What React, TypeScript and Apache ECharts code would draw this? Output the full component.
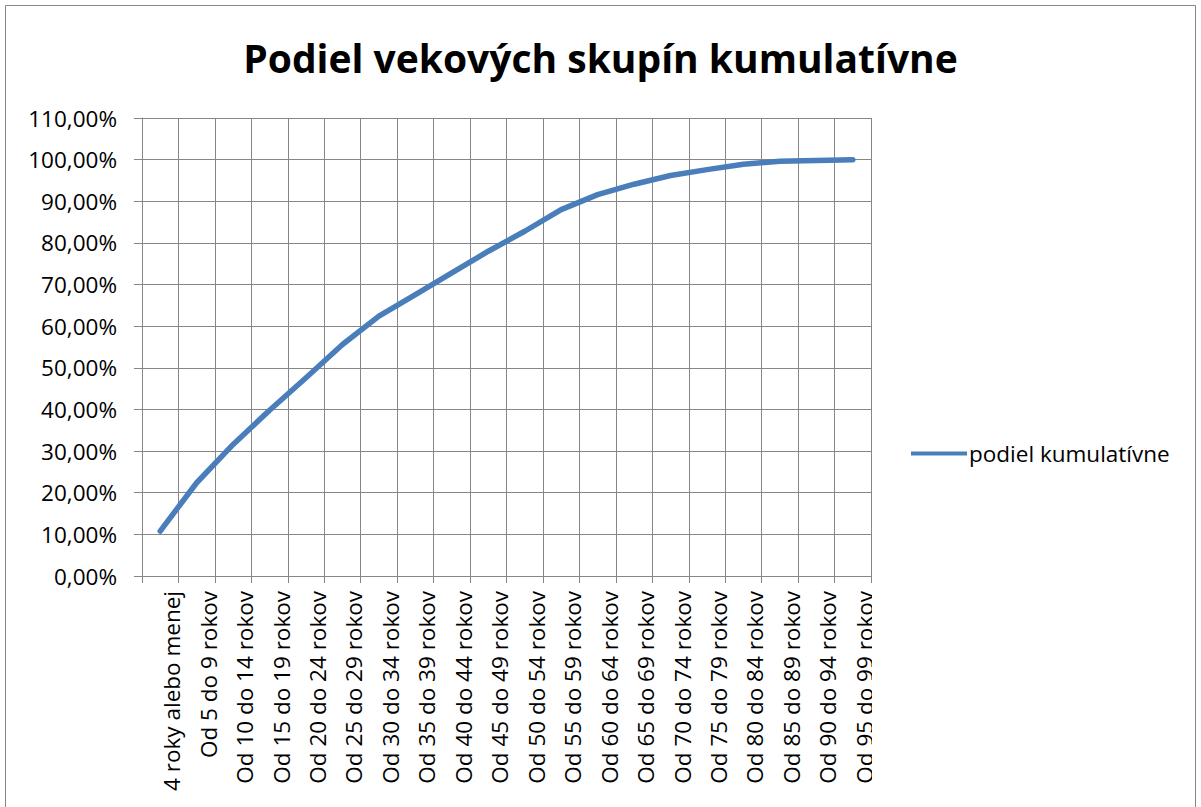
import React, { useEffect, useRef } from "react";
import * as echarts from "echarts";

const titleText = "Podiel vekových skupín kumulatívne";
const seriesName = "podiel kumulatívne";

const categories = [
  "4 roky alebo menej",
  "Od 5 do 9 rokov",
  "Od 10 do 14 rokov",
  "Od 15 do 19 rokov",
  "Od 20 do 24 rokov",
  "Od 25 do 29 rokov",
  "Od 30 do 34 rokov",
  "Od 35 do 39 rokov",
  "Od 40 do 44 rokov",
  "Od 45 do 49 rokov",
  "Od 50 do 54 rokov",
  "Od 55 do 59 rokov",
  "Od 60 do 64 rokov",
  "Od 65 do 69 rokov",
  "Od 70 do 74 rokov",
  "Od 75 do 79 rokov",
  "Od 80 do 84 rokov",
  "Od 85 do 89 rokov",
  "Od 90 do 94 rokov",
  "Od 95 do 99 rokov",
];

// cumulative share in percent
const values = [
  10.8, 22.4, 31.6, 39.8, 47.6, 55.6, 62.4, 67.6, 72.8, 78.0,
  82.8, 88.0, 91.6, 94.1, 96.2, 97.6, 98.9, 99.6, 99.8, 100.0,
];

const yMin = 0;
const yMax = 110;
const yStep = 10;

const FONT = "'Open Sans', 'Noto Sans', sans-serif";
const GRAY = "#868686";

export default function App() {
  const ref = useRef<HTMLDivElement>(null);

  useEffect(() => {
    if (!ref.current) return;
    const chart = echarts.init(ref.current, undefined, { renderer: "svg" });
    chart.setOption({
      animation: false,
      backgroundColor: "#ffffff",
      title: {
        text: titleText,
        left: "center",
        top: 33,
        textStyle: {
          fontFamily: FONT,
          fontWeight: "bold",
          fontSize: 39,
          color: "#000000",
        },
      },
      legend: {
        orient: "vertical",
        left: 906,
        top: 437,
        itemWidth: 56,
        itemHeight: 14,
        itemGap: 0,
        data: [{ name: seriesName, icon: "path://M0,0 L56,0 L56,4 L0,4 Z" }],
        textStyle: {
          fontFamily: FONT,
          fontSize: 22.5,
          color: "#000000",
          padding: [0, 0, 0, -3],
        },
      },
      grid: {
        left: 142,
        right: 330,
        top: 118,
        bottom: 231,
        containLabel: false,
      },
      xAxis: {
        type: "category",
        data: categories,
        boundaryGap: true,
        axisLine: { show: true, lineStyle: { color: GRAY, width: 1 } },
        axisTick: { show: true, length: 7, lineStyle: { color: GRAY } },
        splitLine: { show: true, lineStyle: { color: GRAY, width: 1 } },
        axisLabel: {
          interval: 0,
          rotate: 90,
          margin: 15,
          verticalAlign: "top",
          fontFamily: FONT,
          fontSize: 22.5,
          color: "#000000",
        },
      },
      yAxis: {
        type: "value",
        min: yMin,
        max: yMax,
        interval: yStep,
        axisLine: { show: true, lineStyle: { color: GRAY, width: 1 } },
        axisTick: { show: true, length: 8, lineStyle: { color: GRAY } },
        splitLine: { show: true, lineStyle: { color: GRAY, width: 1 } },
        axisLabel: {
          margin: 25,
          fontFamily: FONT,
          fontSize: 22.5,
          color: "#000000",
          formatter: (v: number) => v.toFixed(2).replace(".", ",") + "%",
        },
      },
      series: [
        {
          name: seriesName,
          type: "line",
          data: values,
          symbol: "none",
          smooth: false,
          lineStyle: { color: "#4A7EBB", width: 5.5, cap: "round", join: "round" },
          itemStyle: { color: "#4A7EBB" },
        },
      ],
      graphic: [
        {
          type: "rect",
          z: 100,
          shape: { x: 872, y: 584, width: 40, height: 223 },
          style: { fill: "#ffffff" },
        },
        {
          type: "rect",
          z: 101,
          shape: { x: 5.5, y: 5.5, width: 1190, height: 900 },
          style: { fill: "none", stroke: GRAY, lineWidth: 1 },
        },
      ],
    });
    return () => chart.dispose();
  }, []);

  return (
    <div
      ref={ref}
      style={{ position: "fixed", left: 0, top: 0, width: 1201, height: 807 }}
    />
  );
}
